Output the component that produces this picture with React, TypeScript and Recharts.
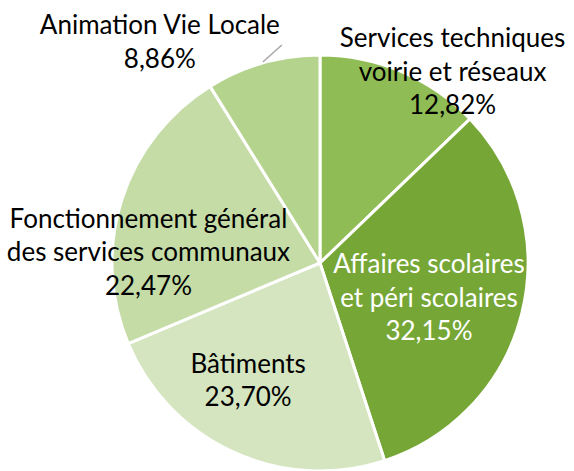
import { PieChart, Pie, Cell } from 'recharts';

const categories = [
  ['Services techniques', 'voirie et réseaux'],
  ['Affaires scolaires', 'et péri scolaires'],
  ['Bâtiments'],
  ['Fonctionnement général', 'des services communaux'],
  ['Animation Vie Locale'],
];
const shares = [12.82, 32.15, 23.7, 22.47, 8.86];
const shareLabels = ['12,82%', '32,15%', '23,70%', '22,47%', '8,86%'];

const colors = ['#8FBC54', '#76A736', '#D4E5BF', '#C5DCA7', '#B4D38D'];
const textColors = ['#000', '#fff', '#000', '#000', '#000'];
// label anchor: fraction of the radius along the slice middle, then a nudge
const labelPlace = [
  { f: 1.0, dx: 51, dy: 0 },
  { f: 0.55, dx: -2, dy: 7 },
  { f: 0.6, dx: -20, dy: 4 },
  { f: 0.82, dx: -9, dy: 41 },
  { f: 1.0, dx: -103, dy: -21 },
];

const data = categories.map((lines, i) => ({
  name: lines.join(' '),
  value: shares[i],
}));

const RAD = Math.PI / 180;
const LINE_H = 33.5;
const FONT = 26;

function polar(cx: number, cy: number, r: number, angle: number) {
  return { x: cx + r * Math.cos(-angle * RAD), y: cy + r * Math.sin(-angle * RAD) };
}

function renderLabel(props: any) {
  const { cx, cy, midAngle, outerRadius, index } = props;
  const place = labelPlace[index];
  const p = polar(cx, cy, outerRadius * place.f, midAngle);
  const x = p.x + place.dx;
  const y = p.y + place.dy;
  const lines = [...categories[index], shareLabels[index]];
  const n = lines.length;
  const edge = polar(cx, cy, outerRadius, midAngle);
  return (
    <g key={`lbl-${index}`}>
      {index === 4 && (
        <line x1={edge.x} y1={edge.y - 1} x2={edge.x + 19} y2={edge.y - 18} stroke="#A6A6A6" strokeWidth={1.5} />
      )}
      <text
        x={x}
        y={y}
        textAnchor="middle"
        fill={textColors[index]}
        fontSize={FONT}
        fontFamily="Lato, sans-serif"
      >
        {lines.map((t, i) => (
          <tspan key={i} x={x} y={y + (i - (n - 1) / 2) * LINE_H + 9}>
            {t}
          </tspan>
        ))}
      </text>
    </g>
  );
}

export default function App() {
  return (
    <div style={{ position: 'absolute', left: 0, top: 0, width: 574, height: 471, background: '#fff' }}>
      <PieChart width={574} height={471} margin={{ top: 0, right: 0, bottom: 0, left: 0 }}>
        <Pie
          data={data}
          dataKey="value"
          nameKey="name"
          cx={320}
          cy={263}
          outerRadius={208}
          startAngle={90}
          endAngle={-270}
          stroke="#fff"
          strokeWidth={3}
          label={renderLabel}
          labelLine={false}
          isAnimationActive={false}
        >
          {data.map((d, i) => (
            <Cell key={d.name} fill={colors[i]} />
          ))}
        </Pie>
      </PieChart>
    </div>
  );
}
